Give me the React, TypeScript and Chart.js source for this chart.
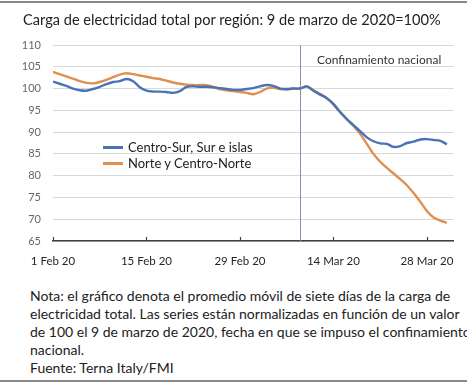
import React, { useEffect, useRef } from "react";
import { Chart, registerables } from "chart.js";

Chart.register(...registerables);

// Days since 1 Feb 2020 (index 0 = 1 Feb 20, index 59 = 31 Mar 20)
const tickDays = [0, 14, 28, 42, 56];
const tickLabels = ["1 Feb 20", "15 Feb 20", "29 Feb 20", "14 Mar 20", "28 Mar 20"];
const lockdownDay = 37; // 9 Mar 20

const centroSur = [
  101.6, 101.1, 100.6, 100.0, 99.6, 99.5, 99.9, 100.4, 101.0, 101.5,
  101.7, 102.2, 101.7, 100.3, 99.5, 99.3, 99.3, 99.2, 99.0, 99.4,
  100.4, 100.5, 100.4, 100.4, 100.3, 100.1, 99.9, 99.7, 99.7, 99.9,
  100.1, 100.5, 100.8, 100.6, 100.0, 99.9, 100.0, 100.0, 100.5, 99.5,
  98.6, 97.8, 96.5, 94.6, 93.0, 91.6, 90.2, 88.8, 87.9, 87.4,
  87.3, 86.6, 86.8, 87.5, 87.8, 88.3, 88.4, 88.2, 88.0, 87.2,
];

const norte = [
  103.8, 103.3, 102.8, 102.3, 101.7, 101.3, 101.2, 101.5, 102.0, 102.6,
  103.2, 103.5, 103.3, 103.0, 102.7, 102.4, 102.2, 101.8, 101.4, 101.1,
  100.9, 100.8, 100.8, 100.8, 100.4, 99.8, 99.6, 99.4, 99.2, 99.0,
  98.7, 99.2, 100.0, 100.2, 99.9, 99.8, 100.0, 100.0, 100.5, 99.6,
  98.8, 97.8, 96.3, 94.6, 93.0, 91.4, 89.6, 87.3, 85.0, 83.2,
  81.8, 80.5, 79.2, 77.8, 76.0, 74.0, 71.9, 70.4, 69.7, 69.2,
];

const seriesNames = ["Centro-Sur, Sur e islas", "Norte y Centro-Norte"];
const seriesColors = ["#4A72B6", "#DF9050"];

const yMin = 65;
const yMax = 110;
const yStep = 5;
const xMin = 0;
const xMax = 60;

const titleText = "Carga de electricidad total por región: 9 de marzo de 2020=100%";
const annotationText = "Confinamiento nacional";
const noteLines = [
  "Nota: el gráfico denota el promedio móvil de siete días de la carga de",
  "electricidad total. Las series están normalizadas en función de un valor",
  "de 100 el 9 de marzo de 2020, fecha en que se impuso el confinamiento",
  "nacional.",
  "Fuente: Terna Italy/FMI",
];

const FONT = "Lato, 'Open Sans', sans-serif";
const CW = 467;
const CH = 280;

export default function App() {
  const ref = useRef<HTMLCanvasElement | null>(null);

  useEffect(() => {
    if (!ref.current) return;
    const toPoints = (arr: number[]) => arr.map((v, i) => ({ x: i, y: v }));

    const extras = {
      id: "extras",
      beforeDatasetsDraw(chart: any) {
        const { ctx, chartArea, scales } = chart;
        const x = scales.x.getPixelForValue(lockdownDay);
        ctx.save();
        ctx.strokeStyle = "#7E93A9";
        ctx.lineWidth = 1;
        ctx.beginPath();
        ctx.moveTo(Math.round(x) + 0.5, chartArea.top);
        ctx.lineTo(Math.round(x) + 0.5, chartArea.bottom);
        ctx.stroke();
        ctx.restore();
      },
      afterDraw(chart: any) {
        const { ctx, chartArea, scales } = chart;
        ctx.save();
        ctx.strokeStyle = "#404040";
        ctx.lineWidth = 1.2;
        tickDays.forEach((d) => {
          const x = Math.round(scales.x.getPixelForValue(d)) + 0.5;
          ctx.beginPath();
          ctx.moveTo(x, chartArea.bottom - 4);
          ctx.lineTo(x, chartArea.bottom);
          ctx.stroke();
        });
        ctx.restore();
      },
    };

    const chart = new Chart(ref.current, {
      type: "line",
      data: {
        datasets: [
          {
            label: seriesNames[0],
            data: toPoints(centroSur),
            borderColor: seriesColors[0],
            backgroundColor: seriesColors[0],
            borderWidth: 2.4,
            pointRadius: 0,
            tension: 0.3,
          },
          {
            label: seriesNames[1],
            data: toPoints(norte),
            borderColor: seriesColors[1],
            backgroundColor: seriesColors[1],
            borderWidth: 2.4,
            pointRadius: 0,
            tension: 0.3,
          },
        ],
      },
      options: {
        responsive: false,
        animation: false,
        devicePixelRatio: 1,
        layout: { padding: { left: 0, right: 9, top: 45, bottom: 0 } },
        plugins: {
          legend: { display: false },
          tooltip: { enabled: false },
          title: { display: false },
        },
        scales: {
          x: {
            type: "linear",
            min: xMin,
            max: xMax,
            afterBuildTicks: (scale: any) => {
              scale.ticks = tickDays.map((d) => ({ value: d }));
            },
            afterFit: (scale: any) => {
              scale.height = CH - 241;
            },
            ticks: {
              autoSkip: false,
              maxRotation: 0,
              padding: 13,
              color: "#262626",
              font: { family: FONT, size: 11.5 },
              callback: (v: any) => {
                const i = tickDays.indexOf(Number(v));
                return i >= 0 ? tickLabels[i] : "";
              },
            },
            grid: { display: false, drawTicks: false },
            border: { display: true, color: "#404040", width: 1.5 },
          },
          y: {
            min: yMin,
            max: yMax,
            afterFit: (scale: any) => {
              scale.width = 53;
            },
            ticks: {
              stepSize: yStep,
              padding: 12,
              color: "#666666",
              font: { family: FONT, size: 11 },
            },
            grid: { color: "#D9D9D9", lineWidth: 1, drawTicks: false },
            border: { display: false },
          },
        },
      },
      plugins: [extras],
    });
    return () => chart.destroy();
  }, []);

  return (
    <div
      style={{
        position: "absolute",
        left: 0,
        top: 0,
        width: CW,
        height: 385,
        background: "#ffffff",
        fontFamily: FONT,
        color: "#222222",
        overflow: "hidden",
      }}
    >
      <div style={{ position: "absolute", left: 0, top: 1, width: CW, height: 1.5, background: "#8a8a8a" }} />
      <canvas ref={ref} width={CW} height={CH} style={{ position: "absolute", left: 0, top: 0 }} />
      <div style={{ position: "absolute", left: 23, top: 11, fontSize: 14.6, whiteSpace: "nowrap" }}>{titleText}</div>
      <div style={{ position: "absolute", left: 317, top: 52, fontSize: 12, whiteSpace: "nowrap", color: "#333" }}>
        {annotationText}
      </div>
      {seriesNames.map((name, i) => (
        <div key={name}>
          <div
            style={{
              position: "absolute",
              left: 103,
              top: 146 + i * 16,
              width: 20,
              height: 2.5,
              background: seriesColors[i],
            }}
          />
          <div
            style={{
              position: "absolute",
              left: 128,
              top: 139 + i * 16,
              fontSize: 13,
              whiteSpace: "nowrap",
              lineHeight: "16px",
            }}
          >
            {name}
          </div>
        </div>
      ))}
      <div style={{ position: "absolute", left: 30, top: 287, fontSize: 14, lineHeight: "18px" }}>
        {noteLines.map((l) => (
          <div key={l} style={{ whiteSpace: "nowrap" }}>
            {l}
          </div>
        ))}
      </div>
      <div style={{ position: "absolute", left: 0, top: 380, width: CW, height: 1.5, background: "#8a8a8a" }} />
    </div>
  );
}
